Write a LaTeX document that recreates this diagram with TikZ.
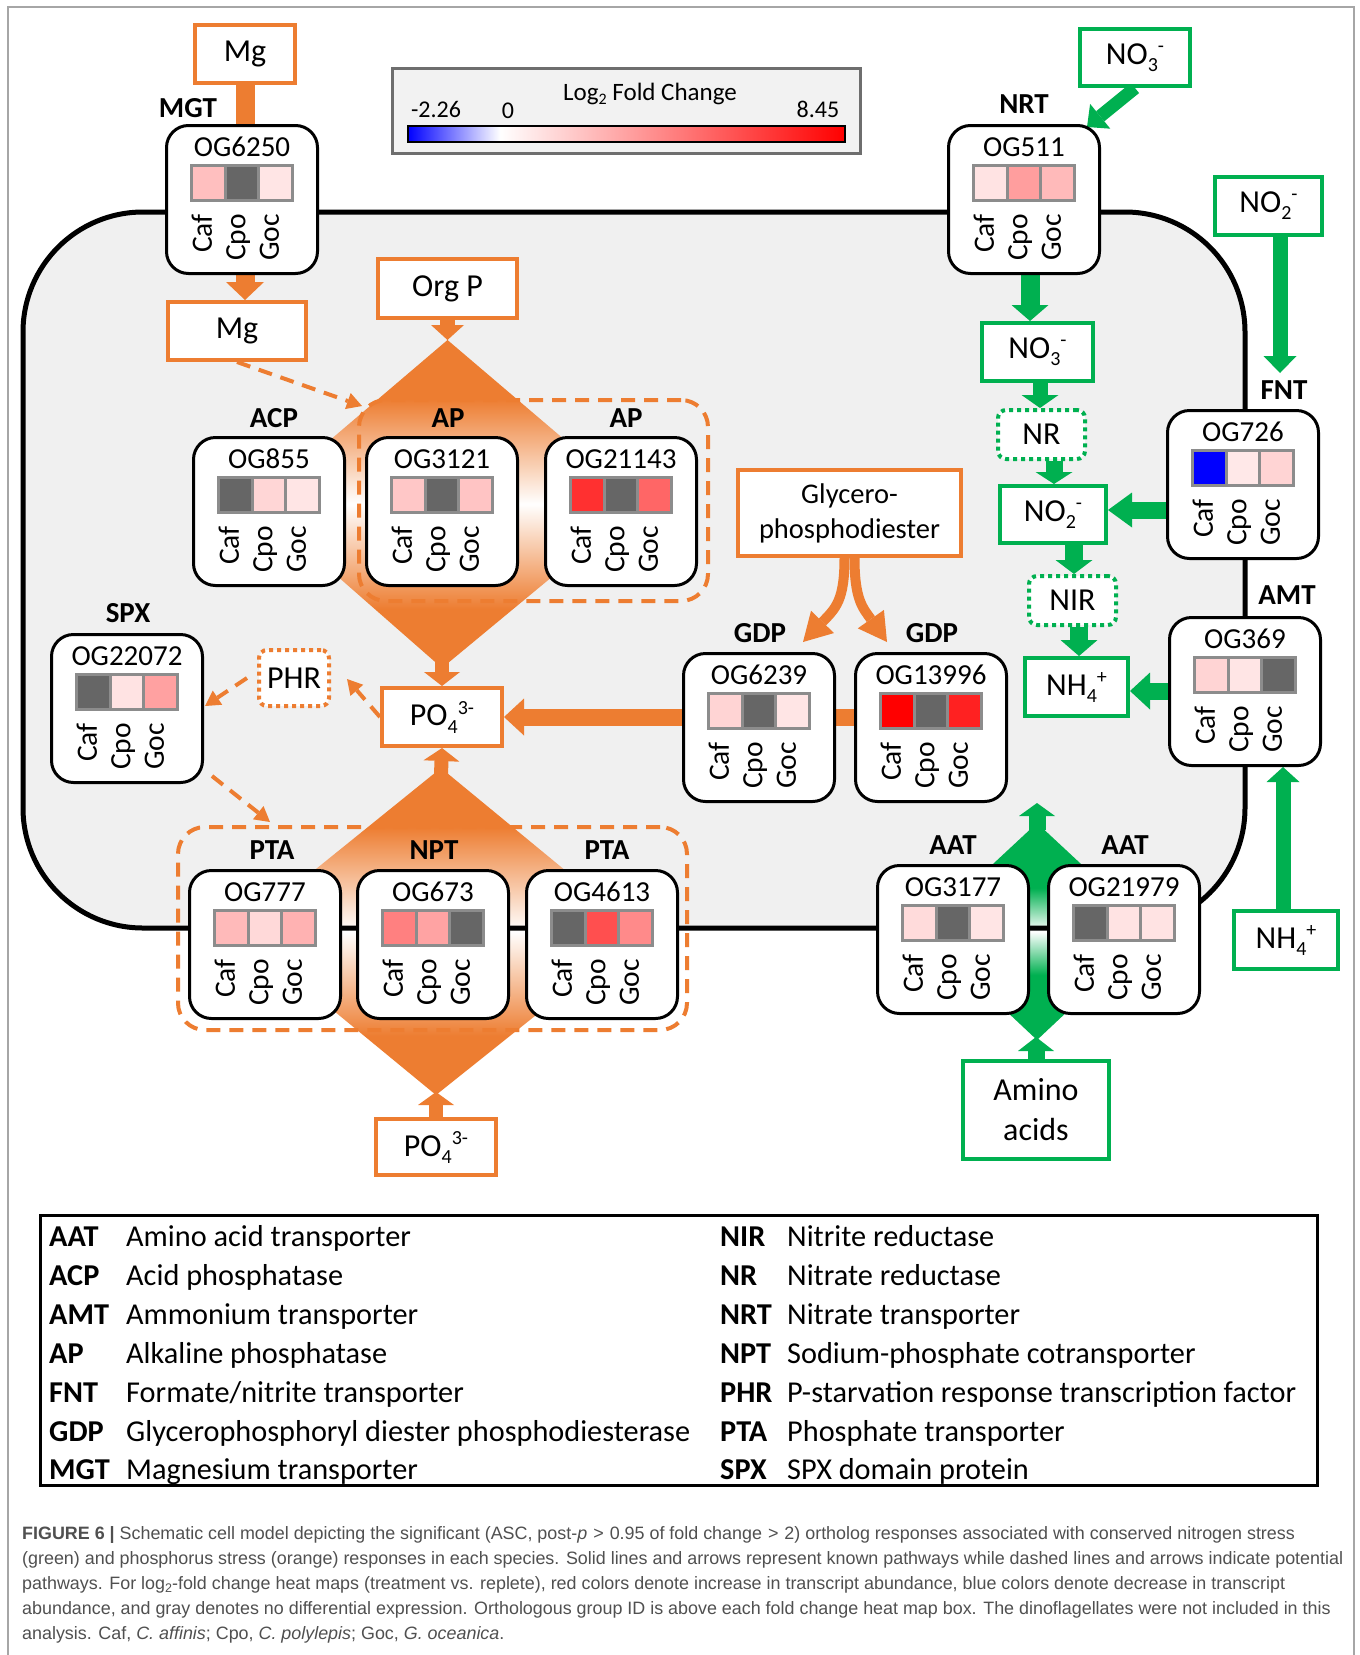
\documentclass[tikz,border=0pt]{standalone}
\usepackage{fontspec}
\setmainfont{Carlito}
\newfontfamily\capfont{Liberation Sans}
\usetikzlibrary{arrows.meta,calc}
\definecolor{ora}{HTML}{ED7D31}
\definecolor{grn}{HTML}{00B050}
\definecolor{cellg}{HTML}{666666}
\definecolor{hmb}{HTML}{8C8C8C}
\definecolor{memb}{HTML}{F0F0F0}
\definecolor{framec}{HTML}{A6A6A6}
\definecolor{cbg}{HTML}{F2F2F2}
\definecolor{cbd}{HTML}{6E6E6E}
\definecolor{capc}{HTML}{505050}
\pgfdeclarelayer{back}\pgfdeclarelayer{mid}\pgfsetlayers{back,mid,main}
\pgfdeclareverticalshading{oshade}{100bp}{color(0bp)=(ora); color(34bp)=(ora); color(50bp)=(white); color(66bp)=(ora); color(100bp)=(ora)}
\pgfdeclareverticalshading{gshade}{100bp}{color(0bp)=(grn); color(40bp)=(grn); color(50bp)=(white); color(60bp)=(grn); color(100bp)=(grn)}
\pgfdeclarehorizontalshading{cbar}{100bp}{color(0bp)=(blue); color(25bp)=(blue); color(35.55bp)=(white); color(75bp)=(red); color(100bp)=(red)}
\newcommand\chem[3]{#1\raisebox{-7pt}{\fontsize{20}{20}\selectfont #2}\raisebox{12pt}{\fontsize{20}{20}\selectfont #3}}
\newcommand\gtsym{\kern6pt>\kern6pt}
\tikzset{
 ogb/.style={draw=black, line width=3pt, fill=white, rounded corners=22pt, minimum width=151pt, minimum height=148pt, inner sep=0pt},
 ogt/.style={font=\fontsize{29}{34}\selectfont, inner sep=0pt},
 lab/.style={font=\fontsize{29.5}{34}\selectfont, rotate=90, anchor=mid east, inner sep=0pt},
 gname/.style={font=\fontsize{29}{34}\selectfont\bfseries, inner sep=0pt},
 obox/.style={draw=ora, line width=4pt, fill=white, inner sep=0pt, font=\fontsize{32}{38}\selectfont},
 oboxs/.style={obox, align=center, font=\fontsize{28.5}{35}\selectfont},
 odot/.style={obox, dash pattern=on 4pt off 4pt, rounded corners=8pt, fill=white},
 gbox/.style={draw=grn, line width=4pt, fill=white, inner sep=0pt, font=\fontsize{32}{38}\selectfont},
 gboxs/.style={gbox, align=center, font=\fontsize{32}{40}\selectfont},
 gdot/.style={gbox, dash pattern=on 4pt off 4pt, rounded corners=8pt, fill=white},
 dbox/.style={draw=ora, line width=4pt, dash pattern=on 14pt off 9pt, rounded corners=27pt, inner sep=0pt},
 cbt/.style={font=\fontsize{24}{28}\selectfont, inner sep=0pt},
 legb/.style={font=\fontsize{30.3}{36}\selectfont\bfseries, inner sep=0pt, anchor=base west},
 legt/.style={font=\fontsize{30.3}{36}\selectfont, inner sep=0pt, anchor=base west},
 capt/.style={font=\capfont\fontsize{17.9}{25}\selectfont, text=capc, inner sep=0pt, anchor=base west},
 ga/.style={draw=grn, line width=17pt, -{Triangle[width=37pt,length=16pt,line width=0pt]}},
 oa/.style={draw=ora, line width=17pt, -{Triangle[width=37pt,length=16pt,line width=0pt]}},
 da/.style={draw=ora, line width=4pt, dash pattern=on 14pt off 9pt, -{Triangle[width=17pt,length=15pt,line width=0pt]}},
}
\newcommand\subbox[7]{%
 \pgfmathsetmacro\mybx{(#3+#5)/2}\pgfmathsetmacro\myby{(#4+#6)/2}%
 \pgfmathsetmacro\mybw{#5-#3-4}\pgfmathsetmacro\mybh{#6-#4-4}%
 \node[#1, minimum width=\mybw pt, minimum height=\mybh pt] (#2) at (\mybx,\myby) {#7};}
\newcommand\ogbox[7]{%
 \pgfmathsetmacro\ogx{#2+77}\pgfmathsetmacro\ogy{#3+75.5}%
 \node[ogb] (#1) at (\ogx,\ogy) {};
 \begin{scope}[shift={(\ogx,\ogy)}]
 \node[ogt] at (0,-52.5) {#4};
 \fill[#5] (-50.5,-34.5) rectangle (-16.83,0.5);
 \fill[#6] (-16.83,-34.5) rectangle (16.83,0.5);
 \fill[#7] (16.83,-34.5) rectangle (50.5,0.5);
 \draw[hmb, line width=3pt] (-50.5,-34.5) rectangle (50.5,0.5) (-16.83,-34.5) -- (-16.83,0.5) (16.83,-34.5) -- (16.83,0.5);
 \node[lab] at (-32.5,14.5) {Caf};
 \node[lab] at (1,14.5) {Cpo};
 \node[lab] at (34.5,14.5) {Goc};
 \end{scope}}
\newcommand\legrow[6]{\node[legb] (#1a) at (#2,#4) {#5}; \node[legt] (#1b) at (#3,#4) {#6};}
\begin{document}
\begin{tikzpicture}[x=1pt,y=-1pt]
\useasboundingbox (0,0) rectangle (1360,1655);

\begin{pgfonlayer}{back}
\fill[white] (0,0) rectangle (1360,1655);
\draw[framec, line width=1.5pt] (8,1700) -- (8,7) -- (1354,7) -- (1354,1700);
\fill[memb, rounded corners=120pt] (23,212) rectangle (1245,928);
\shade[shading=oshade] (447.5,340) -- (640,504) -- (442,668) -- (255,504) -- cycle;
\shade[shading=oshade] (441,768) -- (640,932) -- (436,1095) -- (238,932) -- cycle;
\shade[shading=gshade] (1037,823) -- (1153,931) -- (1037,1040) -- (921,931) -- cycle;
\draw[line width=5pt, rounded corners=120pt] (23,212) rectangle (1245,928);
\end{pgfonlayer}

% colour bar legend
\node[draw=cbd, fill=cbg, line width=3pt, minimum width=468pt, minimum height=85pt, inner sep=0pt] (cbox) at (626.5,111) {};
\shade[shading=cbar] (408,126) rectangle (845,142);
\draw[line width=2pt] (408,126) rectangle (845,142);
\node[cbt, anchor=base] (cbm) at (436,117) {-2.26};
\node[cbt, anchor=base] (cb0) at (508,118) {0};
\node[cbt, anchor=base] (cbp) at (818,117) {8.45};
\node[cbt, anchor=base west, font=\fontsize{25}{30}\selectfont] (cbl) at (563,100) {Log\raisebox{-4pt}{\fontsize{16}{16}\selectfont 2} Fold Change};

% substance boxes
\subbox{obox}{mgtop}{193}{23}{297}{85}{Mg}
\subbox{obox}{mgin}{166}{300}{308}{362}{Mg}
\subbox{obox}{orgp}{376}{257}{519}{320}{Org P}
\subbox{obox}{po4}{380}{686}{504}{748}{\chem{PO}{4}{3-}}
\subbox{obox}{po4b}{374}{1117}{498}{1177}{\chem{PO}{4}{3-}}
\subbox{oboxs}{glyc}{736}{468}{963}{558}{Glycero-\\phosphodiester}
\subbox{odot}{phr}{257}{648}{331}{708}{PHR}
\subbox{gbox}{no3top}{1078}{27}{1192}{88}{\chem{NO}{3}{-}}
\subbox{gbox}{no2top}{1213}{175}{1324}{237}{\chem{NO}{2}{-}}
\subbox{gbox}{no3in}{980}{321}{1095}{383}{\chem{NO}{3}{-}}
\subbox{gdot}{nr}{996}{408}{1087}{461}{NR}
\subbox{gbox}{no2in}{998}{484}{1108}{545}{\chem{NO}{2}{-}}
\subbox{gdot}{nir}{1027}{574}{1118}{627}{NIR}
\subbox{gbox}{nh4in}{1023}{656}{1130}{718}{\chem{NH}{4}{+}}
\subbox{gbox}{nh4out}{1232}{909}{1340}{971}{\chem{NH}{4}{+}}
\subbox{gboxs}{amino}{961}{1059}{1111}{1161}{Amino\\acids}

% dashed groups
\node[dbox, minimum width=349pt, minimum height=201pt] (apgrp) at (533.5,500.5) {};
\node[dbox, minimum width=509pt, minimum height=203pt] (ptagrp) at (432.5,928.5) {};

% heat map boxes
\ogbox{og6250}{165}{124}{OG6250}{red!25}{cellg}{red!10}
\ogbox{og855}{192}{436}{OG855}{cellg}{red!16}{red!10}
\ogbox{og3121}{365}{436}{OG3121}{red!22}{cellg}{red!23}
\ogbox{og21143}{544}{436}{OG21143}{red!81}{cellg}{red!60}
\ogbox{og22072}{50}{633}{OG22072}{cellg}{red!11}{red!37}
\ogbox{og777}{188}{869}{OG777}{red!27}{red!15}{red!30}
\ogbox{og673}{356}{869}{OG673}{red!50}{red!36}{cellg}
\ogbox{og4613}{525}{869}{OG4613}{cellg}{red!69}{red!46}
\ogbox{og6239}{682}{652}{OG6239}{red!17}{cellg}{red!10}
\ogbox{og13996}{854}{652}{OG13996}{red}{cellg}{red!87}
\ogbox{og511}{947}{124}{OG511}{red!11}{red!38}{red!27}
\ogbox{og726}{1166}{409}{OG726}{blue}{red!9}{red!17}
\ogbox{og369}{1168}{616}{OG369}{red!17}{red!10}{cellg}
\ogbox{og3177}{876}{864}{OG3177}{red!14}{cellg}{red!10}
\ogbox{og21979}{1047}{864}{OG21979}{cellg}{red!11}{red!11}

% protein names
\node[gname] (nMGT) at (188,108) {MGT};
\node[gname] (nNRT) at (1024,104) {NRT};
\node[gname] (nFNT) at (1284,390) {FNT};
\node[gname] (nACP) at (274,418) {ACP};
\node[gname] (nAP1) at (448,418) {AP};
\node[gname] (nAP2) at (626,418) {AP};
\node[gname] (nSPX) at (128,613) {SPX};
\node[gname] (nGDP1) at (760,633) {GDP};
\node[gname] (nGDP2) at (932,633) {GDP};
\node[gname] (nAMT) at (1287,595) {AMT};
\node[gname] (nPTA1) at (272,850) {PTA};
\node[gname] (nNPT) at (434,850) {NPT};
\node[gname] (nPTA2) at (607,850) {PTA};
\node[gname] (nAAT1) at (953,845) {AAT};
\node[gname] (nAAT2) at (1125,845) {AAT};

% helper coordinates
\coordinate (xa) at (1030,0);
\coordinate (xb) at (1040,0);
\coordinate (xc) at (1054,0);
\coordinate (xd) at (1074,0);
\coordinate (xe) at (1079,0);
\coordinate (xf) at (1283,0);
\coordinate (xg) at (1280,0);
\coordinate (ya) at (0,510);
\coordinate (yb) at (0,691);
\coordinate (yc) at (0,717);
\coordinate (nrttip) at (1087,127);
\coordinate (fnttip) at (1280,373);
\coordinate (dtop) at (447.5,340);
\coordinate (dbot1) at (442,662);
\coordinate (dtop2) at (441,774);
\coordinate (dbot2) at (436,1092);
\coordinate (gbot) at (1036,1037);
\coordinate (gtopa) at (1037,830);
\coordinate (gtopb) at (1037,803);
\coordinate (gtip1) at (803,642);
\coordinate (gtip2) at (887,642);
\coordinate (apt) at (362,406);
\coordinate (phrt) at (347,679);
\coordinate (spxt) at (205,706);
\coordinate (ptat) at (270,822);

\begin{pgfonlayer}{mid}
% orange (phosphorus / Mg)
\draw[draw=ora, line width=19pt] (mgtop.south) -- (og6250.north -| mgtop.south);
\draw[oa, line width=19pt, -{Triangle[width=38pt,length=18pt,line width=0pt]}] (og6250.south -| mgtop.south) -- (mgin.north -| mgtop.south);
\draw[oa, line width=15pt, -{Triangle[width=33pt,length=15pt,line width=0pt]}] (orgp.south) -- (dtop);
\draw[oa, line width=14pt, -{Triangle[width=36pt,length=14pt,line width=0pt]}] (dbot1) -- (po4.north);
\draw[oa, line width=14pt, -{Triangle[width=36pt,length=13pt,line width=0pt]}] (dtop2) -- (po4.south);
\draw[oa, line width=14pt, -{Triangle[width=36pt,length=13pt,line width=0pt]}] (po4b.north) -- (dbot2);
\draw[oa, line width=17pt, -{Triangle[width=37pt,length=20pt,line width=0pt]}] (og13996.center |- yc) -- (po4.east |- yc);
\draw[draw=ora, line width=10pt, -{Triangle[width=32pt,length=28pt,line width=0pt]}] ([xshift=-5pt]glyc.south) .. controls (844.5,600) and (836,608) .. (gtip1);
\draw[draw=ora, line width=10pt, -{Triangle[width=32pt,length=28pt,line width=0pt]}] ([xshift=5pt]glyc.south) .. controls (854.5,600) and (863,608) .. (gtip2);
\draw[da] (mgin.south) -- (apt);
\draw[da] (po4.west) -- (phrt);
\draw[da] ([xshift=-10pt]phr.west) -- (spxt);
\draw[da] ([shift={(8,-8)}]og22072.south east) -- (ptat);
% green (nitrogen)
\draw[ga, line width=13pt, -{Triangle[width=32pt,length=17pt,line width=0pt]}] (no3top.south) -- (nrttip);
\draw[ga, line width=19pt] (og511.south -| xa) -- (no3in.north -| xa);
\draw[ga, line width=15pt, -{Triangle[width=37pt,length=13pt,line width=0pt]}] (no3in.south -| xb) -- (nr.north -| xb);
\draw[ga, line width=17pt, -{Triangle[width=37pt,length=12pt,line width=0pt]}] (nr.south -| xc) -- (no2in.north -| xc);
\draw[ga, -{Triangle[width=35pt,length=24pt,line width=0pt]}] (og726.west |- ya) -- (no2in.east |- ya);
\draw[ga, line width=18pt, -{Triangle[width=37pt,length=14pt,line width=0pt]}] (no2in.south -| xd) -- (nir.north -| xd);
\draw[ga, line width=18pt, -{Triangle[width=37pt,length=16pt,line width=0pt]}] (nir.south -| xe) -- (nh4in.north -| xe);
\draw[ga, -{Triangle[width=37pt,length=20pt,line width=0pt]}] (og369.west |- yb) -- (nh4in.east |- yb);
\draw[ga, line width=15pt, -{Triangle[width=33pt,length=15pt,line width=0pt]}] (nh4out.north -| xf) -- (og369.south -| xf);
\draw[ga, line width=15pt, -{Triangle[width=33pt,length=17pt,line width=0pt]}] (no2top.south -| xg) -- (fnttip);
\draw[ga, line width=17pt, -{Triangle[width=36pt,length=14pt,line width=0pt]}] (amino.north) -- (gbot);
\draw[ga, line width=17pt, -{Triangle[width=36pt,length=13pt,line width=0pt]}] (gtopa) -- (gtopb);
\end{pgfonlayer}

% abbreviation legend
\node[draw, line width=3pt, minimum width=1277pt, minimum height=270pt, inner sep=0pt] (legend) at (679,1350.5) {};
\legrow{la}{49}{126}{1246.5}{AAT}{Amino acid transporter}
\legrow{lb}{49}{126}{1285.4}{ACP}{Acid phosphatase}
\legrow{lc}{49}{126}{1324.3}{AMT}{Ammonium transporter}
\legrow{ld}{49}{126}{1363.2}{AP}{Alkaline phosphatase}
\legrow{le}{49}{126}{1402.1}{FNT}{Formate/nitrite transporter}
\legrow{lf}{49}{126}{1441}{GDP}{Glycerophosphoryl diester phosphodiesterase}
\legrow{lg}{49}{126}{1479.9}{MGT}{Magnesium transporter}
\legrow{ra}{720}{787}{1246.5}{NIR}{Nitrite reductase}
\legrow{rb}{720}{787}{1285.4}{NR}{Nitrate reductase}
\legrow{rc}{720}{787}{1324.3}{NRT}{Nitrate transporter}
\legrow{rd}{720}{787}{1363.2}{NPT}{Sodium-phosphate cotransporter}
\legrow{re}{720}{787}{1402.1}{PHR}{P-starvation response transcription factor}
\legrow{rf}{720}{787}{1441}{PTA}{Phosphate transporter}
\legrow{rg}{720}{787}{1479.9}{SPX}{SPX domain protein}

% caption
\node[capt] (cap1) at (22,1539) {{\bfseries FIGURE 6 |} Schematic cell model depicting the significant (ASC, post-\textit{p}\gtsym 0.95 of fold change\gtsym 2) ortholog responses associated with conserved nitrogen stress};
\node[capt] (cap2) at (22,1564) {(green) and phosphorus stress (orange) responses in each species. Solid lines and arrows represent known pathways while dashed lines and arrows indicate potential};
\node[capt] (cap3) at (22,1589) {pathways. For log\raisebox{-3pt}{\fontsize{12.5}{12.5}\selectfont 2}-fold change heat maps (treatment vs. replete), red colors denote increase in transcript abundance, blue colors denote decrease in transcript};
\node[capt] (cap4) at (22,1614) {abundance, and gray denotes no differential expression. Orthologous group ID is above each fold change heat map box. The dinoflagellates were not included in this};
\node[capt] (cap5) at (22,1639) {analysis. Caf, \textit{C. affinis}; Cpo, \textit{C. polylepis}; Goc, \textit{G. oceanica}.};
\end{tikzpicture}
\end{document}
